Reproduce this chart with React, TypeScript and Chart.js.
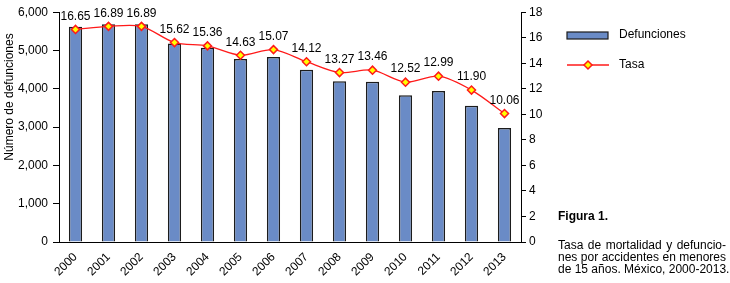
import React, { useEffect, useRef } from "react";
import { Chart, registerables } from "chart.js";

Chart.register(...registerables);

const years = ["2000", "2001", "2002", "2003", "2004", "2005", "2006", "2007", "2008", "2009", "2010", "2011", "2012", "2013"];
const defunciones = [5623, 5685, 5685, 5183, 5072, 4780, 4832, 4496, 4194, 4186, 3832, 3943, 3556, 2979];
const tasa = [16.65, 16.89, 16.89, 15.62, 15.36, 14.63, 15.07, 14.12, 13.27, 13.46, 12.52, 12.99, 11.9, 10.06];
const leftTicks = { min: 0, max: 6000, step: 1000 };
const rightTicks = { min: 0, max: 18, step: 2 };
const legendLabels = ["Defunciones", "Tasa"];
const figureTitle = "Figura 1.";
const captionLines = ["Tasa de mortalidad y defuncio-", "nes por accidentes en menores", "de 15 años. México, 2000-2013."];
const yTitle = "Número de defunciones";

const FONT = "'Liberation Sans', Arial, sans-serif";
const BAR_FILL = "#6a8bc6";
const BAR_BORDER = "#1c1c1c";
const LINE_COLOR = "#ff1a1a";
const POINT_FILL = "#ffff00";

const labelsPlugin = {
  id: "pointLabels",
  afterDatasetsDraw(chart: any) {
    const ctx = chart.ctx;
    const meta = chart.getDatasetMeta(1);
    ctx.save();
    ctx.font = `12px ${FONT}`;
    ctx.fillStyle = "#000";
    ctx.textAlign = "center";
    ctx.textBaseline = "middle";
    meta.data.forEach((pt: any, i: number) => {
      ctx.fillText(tasa[i].toFixed(2), pt.x, pt.y - 13);
    });
    ctx.restore();
  },
};

function drawDiamond(ctx: CanvasRenderingContext2D, x: number, y: number, r: number) {
  ctx.beginPath();
  ctx.moveTo(x, y - r);
  ctx.lineTo(x + r, y);
  ctx.lineTo(x, y + r);
  ctx.lineTo(x - r, y);
  ctx.closePath();
  ctx.fillStyle = POINT_FILL;
  ctx.fill();
  ctx.strokeStyle = LINE_COLOR;
  ctx.lineWidth = 1.5;
  ctx.stroke();
}

const sidePlugin = {
  id: "sideText",
  afterDraw(chart: any) {
    const ctx: CanvasRenderingContext2D = chart.ctx;
    ctx.save();
    // y axis title
    ctx.save();
    ctx.translate(10, 97);
    ctx.rotate(-Math.PI / 2);
    ctx.font = `12px ${FONT}`;
    ctx.fillStyle = "#000";
    ctx.textAlign = "center";
    ctx.textBaseline = "middle";
    ctx.fillText(yTitle, 0, 0);
    ctx.restore();
    // legend
    ctx.fillStyle = BAR_FILL;
    ctx.fillRect(567, 32, 41, 7);
    ctx.strokeStyle = BAR_BORDER;
    ctx.lineWidth = 1.2;
    ctx.strokeRect(567, 32, 41, 7);
    ctx.beginPath();
    ctx.moveTo(567, 65);
    ctx.lineTo(609, 65);
    ctx.strokeStyle = LINE_COLOR;
    ctx.lineWidth = 1.3;
    ctx.stroke();
    drawDiamond(ctx, 588, 65, 4);
    ctx.fillStyle = "#000";
    ctx.font = `12px ${FONT}`;
    ctx.textAlign = "left";
    ctx.textBaseline = "middle";
    ctx.fillText(legendLabels[0], 619, 35);
    ctx.fillText(legendLabels[1], 619, 65);
    // caption
    ctx.textBaseline = "alphabetic";
    ctx.font = `bold 12px ${FONT}`;
    ctx.fillText(figureTitle, 558, 220);
    ctx.font = `12px ${FONT}`;
    const x0 = 558;
    const x1 = 726;
    const baselines = [249, 261, 273];
    captionLines.forEach((line, li) => {
      const words = line.split(" ");
      if (li === captionLines.length - 1) {
        ctx.fillText(line, x0, baselines[li]);
        return;
      }
      const total = words.reduce((s, w) => s + ctx.measureText(w).width, 0);
      const gap = (x1 - x0 - total) / (words.length - 1);
      let x = x0;
      words.forEach((w) => {
        ctx.fillText(w, x, baselines[li]);
        x += ctx.measureText(w).width + gap;
      });
    });
    ctx.restore();
  },
};

export default function App() {
  const ref = useRef<HTMLCanvasElement | null>(null);
  useEffect(() => {
    if (!ref.current) return;
    const tickFont = { family: FONT, size: 12 };
    const chart = new Chart(ref.current, {
      type: "bar",
      data: {
        labels: years,
        datasets: [
          {
            type: "bar",
            label: legendLabels[0],
            data: defunciones,
            yAxisID: "y",
            backgroundColor: BAR_FILL,
            borderColor: BAR_BORDER,
            borderWidth: 1.5,
            barPercentage: 0.4,
            categoryPercentage: 1,
            order: 1,
          },
          {
            type: "line",
            label: legendLabels[1],
            data: tasa,
            yAxisID: "y1",
            borderColor: LINE_COLOR,
            borderWidth: 1.3,
            tension: 0.3,
            pointStyle: "rectRot",
            pointRadius: 4,
            pointBackgroundColor: POINT_FILL,
            pointBorderColor: LINE_COLOR,
            pointBorderWidth: 1.5,
            order: 0,
          },
        ],
      },
      options: {
        responsive: false,
        animation: false,
        locale: "en-US",
        layout: { padding: { top: 10, left: 0, right: 0, bottom: 0 } },
        plugins: { legend: { display: false }, tooltip: { enabled: false } },
        scales: {
          x: {
            grid: { display: false, drawTicks: false },
            border: { display: true, color: "#000", width: 1 },
            ticks: { font: tickFont, color: "#000", maxRotation: 45, minRotation: 45, padding: 8 },
            afterFit: (s: any) => {
              s.height = 41;
            },
          },
          y: {
            position: "left",
            min: leftTicks.min,
            max: leftTicks.max,
            ticks: { stepSize: leftTicks.step, font: tickFont, color: "#000", padding: 5 },
            grid: { drawOnChartArea: false, drawTicks: true, tickLength: 6, color: "#000" },
            border: { display: true, color: "#000", width: 1 },
            afterFit: (s: any) => {
              s.width = 59;
            },
          },
          y1: {
            position: "right",
            min: rightTicks.min,
            max: rightTicks.max,
            ticks: { stepSize: rightTicks.step, font: tickFont, color: "#000", padding: 3 },
            grid: { drawOnChartArea: false, drawTicks: true, tickLength: 5, color: "#000" },
            border: { display: true, color: "#000", width: 1 },
            afterFit: (s: any) => {
              s.width = 209;
            },
          },
        },
      } as any,
      plugins: [labelsPlugin, sidePlugin],
    });
    return () => chart.destroy();
  }, []);
  return (
    <div style={{ position: "fixed", left: 0, top: 0, width: 730, height: 283, background: "#fff" }}>
      <canvas ref={ref} width={730} height={283} style={{ display: "block" }} />
    </div>
  );
}
